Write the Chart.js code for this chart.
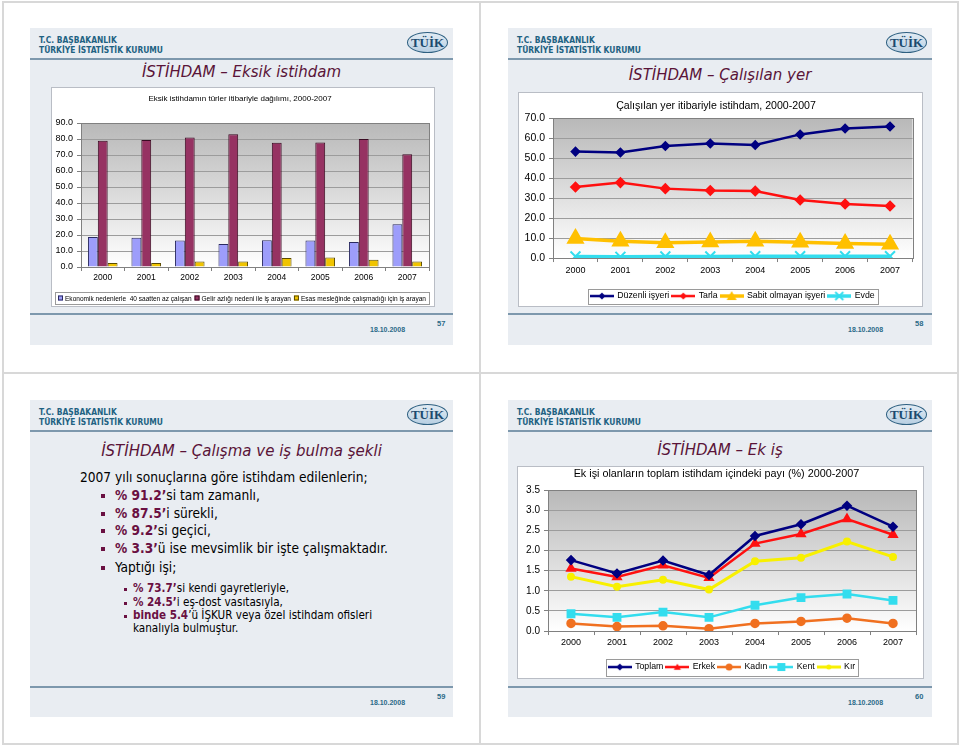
<!DOCTYPE html>
<html><head><meta charset="utf-8">
<script src="https://cdn.jsdelivr.net/npm/chart.js@4.4.0/dist/chart.umd.min.js"></script>
<style>
body{margin:0;width:960px;height:746px;background:#fff;position:relative;overflow:hidden;font-family:"DejaVu Sans Condensed","DejaVu Sans",sans-serif;}
.frame{position:absolute;border:2px solid #d8d8d8;box-sizing:border-box;}
.slide{position:absolute;background:#e9edf2;width:423px;height:317px;}
.hdr{position:absolute;left:9px;top:7px;font-weight:bold;font-size:8.4px;color:#1e6282;line-height:10px;white-space:nowrap;}
.hline{position:absolute;left:0;right:0;height:2px;background:#7d98ad;}
.logo{position:absolute;left:377px;top:4px;width:39px;height:19px;border:1px solid #2d5f80;border-radius:50%;background:linear-gradient(#e2ecf4,#b8cfe2);font:bold 13px "Liberation Serif",serif;color:#1b4a6e;text-align:center;line-height:20px;}
.title{position:absolute;left:0;right:0;text-align:center;font-style:italic;color:#5a1438;font-size:16.7px;line-height:22px;white-space:nowrap;}
.date{position:absolute;left:340px;font:bold 7px "Liberation Sans",Arial,sans-serif;color:#2b6a88;}
.pg{position:absolute;left:407px;font:bold 7.5px "Liberation Sans",Arial,sans-serif;color:#2b6a88;}
.cbox{position:absolute;background:#fff;border:1px solid #b9bdc5;box-sizing:border-box;}
canvas{position:absolute;}
.tx{position:absolute;white-space:nowrap;color:#000;}
.b{font-weight:bold;color:#6a1042;}
.sq{position:absolute;background:#6a1042;}
</style>
</head><body>
<div class="frame" style="left:2px;top:1px;width:479px;height:373px"></div>
<div class="frame" style="left:479px;top:1px;width:480px;height:373px"></div>
<div class="frame" style="left:2px;top:372px;width:479px;height:373px"></div>
<div class="frame" style="left:479px;top:372px;width:480px;height:373px"></div>

<!-- Slide 57 -->
<div class="slide" style="left:30px;top:28px">
  <div class="hdr">T.C. BAŞBAKANLIK<br>TÜRKİYE İSTATİSTİK KURUMU</div>
  <div class="logo">TÜİK</div>
  <div class="hline" style="top:30px"></div>
  <div class="title" style="top:32px">İSTİHDAM – Eksik istihdam</div>
  <div class="hline" style="top:285px"></div>
  <div class="date" style="top:298px">18.10.2008</div>
  <div class="pg" style="top:291px">57</div>
</div>
<!-- Slide 58 -->
<div class="slide" style="left:508px;top:28px;width:424px">
  <div class="hdr">T.C. BAŞBAKANLIK<br>TÜRKİYE İSTATİSTİK KURUMU</div>
  <div class="logo" style="left:378px">TÜİK</div>
  <div class="hline" style="top:30px"></div>
  <div class="title" style="top:35px">İSTİHDAM – Çalışılan yer</div>
  <div class="hline" style="top:285px"></div>
  <div class="date" style="top:298px">18.10.2008</div>
  <div class="pg" style="top:291px">58</div>
</div>
<!-- Slide 59 -->
<div class="slide" style="left:30px;top:400px">
  <div class="hdr">T.C. BAŞBAKANLIK<br>TÜRKİYE İSTATİSTİK KURUMU</div>
  <div class="logo">TÜİK</div>
  <div class="hline" style="top:30px"></div>
  <div class="title" style="top:39px">İSTİHDAM – Çalışma ve iş bulma şekli</div>
  <div class="hline" style="top:286px"></div>
  <div class="date" style="top:299px">18.10.2008</div>
  <div class="pg" style="top:292px">59</div>
</div>
<!-- Slide 60 -->
<div class="slide" style="left:508px;top:400px;width:424px">
  <div class="hdr">T.C. BAŞBAKANLIK<br>TÜRKİYE İSTATİSTİK KURUMU</div>
  <div class="logo" style="left:378px">TÜİK</div>
  <div class="hline" style="top:30px"></div>
  <div class="title" style="top:38px">İSTİHDAM – Ek iş</div>
  <div class="hline" style="top:286px"></div>
  <div class="date" style="top:299px">18.10.2008</div>
  <div class="pg" style="top:292px">60</div>
</div>

<!-- text slide 59 -->
<div style="position:absolute;left:0;top:0;font-size:13.6px;">
  <div class="tx" style="left:80px;top:469px">2007 yılı sonuçlarına göre istihdam edilenlerin;</div>
  <div class="sq" style="left:101px;top:494px;width:4px;height:4px"></div>
  <div class="tx" style="left:115px;top:487px"><span class="b">% 91.2’</span>si tam zamanlı,</div>
  <div class="sq" style="left:101px;top:512px;width:4px;height:4px"></div>
  <div class="tx" style="left:115px;top:505px"><span class="b">% 87.5’</span>i sürekli,</div>
  <div class="sq" style="left:101px;top:529px;width:4px;height:4px"></div>
  <div class="tx" style="left:115px;top:522px"><span class="b">% 9.2’</span>si geçici,</div>
  <div class="sq" style="left:101px;top:547px;width:4px;height:4px"></div>
  <div class="tx" style="left:115px;top:540px"><span class="b">% 3.3’</span>ü ise mevsimlik bir işte çalışmaktadır.</div>
  <div class="sq" style="left:101px;top:566px;width:4px;height:4px"></div>
  <div class="tx" style="left:115px;top:559px">Yaptığı işi;</div>
  <div style="font-size:11.6px">
    <div class="sq" style="left:124px;top:588px;width:3px;height:3px"></div>
    <div class="tx" style="left:133px;top:581px"><span class="b">% 73.7’</span>si kendi gayretleriyle,</div>
    <div class="sq" style="left:124px;top:602px;width:3px;height:3px"></div>
    <div class="tx" style="left:133px;top:595px"><span class="b">% 24.5’</span>i eş-dost vasıtasıyla,</div>
    <div class="sq" style="left:124px;top:615px;width:3px;height:3px"></div>
    <div class="tx" style="left:133px;top:608px"><span class="b">binde 5.4</span>’ü İŞKUR veya özel istihdam ofisleri</div>
    <div class="tx" style="left:133px;top:621px">kanalıyla  bulmuştur.</div>
  </div>
</div>

<div class="cbox" style="left:51px;top:87px;width:384px;height:220px"></div>
<canvas id="c1" width="384" height="220" style="left:51px;top:87px;width:384px;height:220px"></canvas>
<div class="cbox" style="left:518px;top:92px;width:405px;height:215px"></div>
<canvas id="c2" width="405" height="225" style="left:518px;top:92px;width:405px;height:225px"></canvas>
<div class="cbox" style="left:517px;top:466px;width:407px;height:213px"></div>
<canvas id="c4" width="407" height="223" style="left:517px;top:466px;width:407px;height:223px"></canvas>

<script>
const years = ['2000','2001','2002','2003','2004','2005','2006','2007'];
// Eksik istihdam
const ekonomik = [18.8,18.3,16.5,14.4,16.7,16.5,15.6,26.7];
const gelir = [78.9,79.4,81.0,82.9,77.7,77.8,80.0,70.4];
const esas = [2.5,2.5,3.5,3.5,5.6,6.0,4.6,3.5];
// Çalışılan yer
const duzenli = [53.2,52.8,56.0,57.3,56.5,61.8,64.7,65.8];
const tarla = [35.5,37.7,34.7,33.8,33.5,29.0,27.0,26.0];
const sabit = [9.8,8.4,7.6,8.0,8.4,7.9,7.3,6.9];
const evde = [0.8,0.6,0.8,0.8,0.9,0.9,0.9,0.9];
// Ek iş
const toplam = [1.76,1.43,1.75,1.39,2.36,2.65,3.11,2.59];
const erkek = [1.55,1.34,1.63,1.32,2.17,2.41,2.78,2.39];
const kadin = [0.19,0.11,0.13,0.06,0.19,0.24,0.32,0.19];
const kent = [0.43,0.34,0.47,0.34,0.64,0.83,0.92,0.76];
const kir = [1.35,1.10,1.27,1.03,1.73,1.82,2.22,1.84];

const FONT = '"Liberation Sans", Arial, sans-serif';
Chart.defaults.font.family = FONT;
Chart.defaults.color = '#000';
Chart.defaults.animation = false;
Chart.defaults.responsive = false;

const plotBg = {
  id: 'plotBg',
  beforeDraw(chart) {
    const {ctx, chartArea: a} = chart;
    const g = ctx.createLinearGradient(0, a.top, 0, a.bottom);
    g.addColorStop(0, '#b8b8b8');
    g.addColorStop(1, '#ffffff');
    ctx.save();
    ctx.fillStyle = g;
    ctx.fillRect(a.left, a.top, a.width, a.height);
    ctx.restore();
  },
  beforeDatasetsDraw(chart) {
    const {ctx, chartArea: a} = chart;
    ctx.save();
    ctx.strokeStyle = '#808080';
    ctx.lineWidth = 1;
    ctx.strokeRect(Math.round(a.left) + 0.5, Math.round(a.top) + 0.5, Math.round(a.width), Math.round(a.height));
    ctx.restore();
  },
  afterDraw(chart) {
    const b = chart.options.$legendBox;
    if (!b || !chart.legend || !chart.legend.options.display) return;
    const l = chart.legend;
    const ctx = chart.ctx;
    const w = l.lineWidths[0] + b.pad;
    const cx = (l.left + l.right) / 2;
    const cy = l.top + l.options.labels.padding + l.options.labels.font.size / 2;
    ctx.save();
    ctx.strokeStyle = '#9a9a9a';
    ctx.lineWidth = 1;
    ctx.strokeRect(Math.round(cx - w / 2) + 0.5, Math.round(cy - b.h / 2) + 0.5, Math.round(w), b.h);
    ctx.restore();
  }
};

// Compact legend for the bar chart (text squeezed horizontally like the original)
const barLegend = {
  id: 'barLegend',
  afterDraw(chart) {
    const o = chart.options.$barLegend;
    const ctx = chart.ctx;
    const ds = chart.data.datasets;
    ctx.save();
    ctx.font = o.size + 'px ' + FONT;
    const box = 5, gapT = 2, gapI = 3;
    const texts = ds.map(d => ctx.measureText(d.label).width);
    const fixed = ds.length * (box + gapT) + (ds.length - 1) * gapI;
    const sx = Math.min(1, (o.x1 - o.x0 - 6 - fixed) / texts.reduce((a, b) => a + b, 0));
    ctx.strokeStyle = '#9a9a9a'; ctx.lineWidth = 1;
    ctx.strokeRect(o.x0 + 0.5, o.y - 6 + 0.5, o.x1 - o.x0, 12);
    let x = o.x0 + 3;
    ctx.textBaseline = 'middle';
    ds.forEach((d, i) => {
      ctx.fillStyle = d.backgroundColor; ctx.strokeStyle = d.borderColor;
      ctx.fillRect(x, o.y - 2.5, box, box);
      ctx.strokeRect(x + 0.5, o.y - 2.5 + 0.5, box - 1, box - 1);
      x += box + gapT;
      ctx.save(); ctx.translate(x, o.y + 0.5); ctx.scale(sx, 1);
      ctx.fillStyle = '#000'; ctx.fillText(d.label, 0, 0); ctx.restore();
      x += texts[i] * sx + gapI;
    });
    ctx.restore();
  }
};

function yAxis(max, step, dec, width, size) {
  return {
    min: 0, max: max,
    ticks: {stepSize: step, callback: v => Number(v).toFixed(dec), font: {size: size}, padding: 4},
    grid: {color: '#9c9c9c', drawTicks: true, tickLength: 4, tickColor: '#808080'},
    border: {color: '#808080'},
    afterFit(s) { s.width = width; }
  };
}
function xAxis(height, size, pad) {
  return {
    offset: true,
    ticks: {font: {size: size}, padding: pad},
    grid: {offset: true, drawOnChartArea: false, tickLength: 4, color: '#808080'},
    border: {color: '#808080'},
    afterFit(s) { s.height = height; }
  };
}

function legendMark(color, style, r, lw) {
  const c = document.createElement('canvas');
  c.width = 24; c.height = 14;
  const x = c.getContext('2d');
  const m = 12, y = 7;
  x.strokeStyle = color; x.fillStyle = color; x.lineWidth = lw || 2.5;
  x.beginPath(); x.moveTo(0, y); x.lineTo(24, y); x.stroke();
  x.lineWidth = 1.8;
  x.beginPath();
  if (style === 'rectRot') { x.moveTo(m, y - r); x.lineTo(m + r, y); x.lineTo(m, y + r); x.lineTo(m - r, y); x.closePath(); x.fill(); }
  else if (style === 'triangle') { x.moveTo(m, y - r); x.lineTo(m + r, y + r * 0.8); x.lineTo(m - r, y + r * 0.8); x.closePath(); x.fill(); }
  else if (style === 'circle') { x.arc(m, y, r, 0, Math.PI * 2); x.fill(); }
  else if (style === 'rect') { x.fillRect(m - r, y - r, 2 * r, 2 * r); }
  else if (style === 'crossRot') { x.moveTo(m - r, y - r); x.lineTo(m + r, y + r); x.moveTo(m + r, y - r); x.lineTo(m - r, y + r); x.stroke(); }
  return c;
}
const lineLegendLabels = {
  usePointStyle: true, pointStyleWidth: 22, padding: 3, font: {size: 8.75},
  generateLabels(ch) {
    return Chart.defaults.plugins.legend.labels.generateLabels(ch)
      .map((l, i) => Object.assign(l, {pointStyle: ch.data.datasets[i].$m}));
  }
};

// Chart 1 - bars
new Chart(document.getElementById('c1'), {
  type: 'bar',
  data: {
    labels: years,
    datasets: [
      {label: 'Ekonomik nedenlerle  40 saatten az çalışan', data: ekonomik, backgroundColor: '#9d9dfb', borderColor: '#2a2a60', borderWidth: 1},
      {label: 'Gelir azlığı nedeni ile iş arayan', data: gelir, backgroundColor: '#963262', borderColor: '#3a0a22', borderWidth: 1},
      {label: 'Esas mesleğinde çalışmadığı için iş arayan', data: esas, backgroundColor: '#f0c400', borderColor: '#5a4a00', borderWidth: 1}
    ]
  },
  options: {
    $barLegend: {x0: 4, x1: 378, y: 211, size: 8},
    layout: {padding: {left: 0, right: 6, top: 0, bottom: 18}},
    datasets: {bar: {categoryPercentage: 0.68, barPercentage: 1.0}},
    scales: {x: xAxis(22, 8.5, 2), y: yAxis(90, 10, 1, 30, 9)},
    plugins: {
      title: {display: true, text: 'Eksik istihdamın türler itibariyle dağılımı, 2000-2007', font: {size: 8, weight: 'normal', lineHeight: 1.2}, padding: {top: 7.2, bottom: 19.2}, color: '#000'},
      legend: {display: false},
      tooltip: {enabled: false}
    }
  },
  plugins: [plotBg, barLegend]
});

// Chart 2 - lines
new Chart(document.getElementById('c2'), {
  type: 'line',
  data: {
    labels: years,
    datasets: [
      {label: 'Düzenli işyeri', data: duzenli, borderColor: '#000080', backgroundColor: '#000080', borderWidth: 2.5, pointStyle: 'rectRot', pointRadius: 3.5, $m: legendMark('#000080', 'rectRot', 3.5)},
      {label: 'Tarla', data: tarla, borderColor: '#ff1010', backgroundColor: '#ff1010', borderWidth: 2.5, pointStyle: 'rectRot', pointRadius: 4, $m: legendMark('#ff1010', 'rectRot', 3.5)},
      {label: 'Sabit olmayan işyeri', data: sabit, borderColor: '#ffc000', backgroundColor: '#ffc000', borderWidth: 3.5, pointStyle: 'triangle', pointRadius: 7, $m: legendMark('#ffc000', 'triangle', 5, 3.5)},
      {label: 'Evde', data: evde, borderColor: '#33ddee', backgroundColor: '#33ddee', borderWidth: 3.5, pointStyle: 'crossRot', pointRadius: 7, pointBorderWidth: 2, $m: legendMark('#33ddee', 'crossRot', 4, 3.5)}
    ]
  },
  options: {
    $legendBox: {pad: 3, h: 15},
    layout: {padding: {left: 0, right: 9, top: 0, bottom: 6.6}},
    scales: {x: xAxis(30.6, 9, 3.5), y: yAxis(70, 10, 1, 35, 10.5)},
    plugins: {
      title: {display: true, text: 'Çalışılan yer itibariyle istihdam, 2000-2007', font: {size: 10.6, weight: 'normal', lineHeight: 1.2}, padding: {top: 8, bottom: 5.28}, color: '#000'},
      legend: {position: 'bottom', fullSize: false, labels: lineLegendLabels},
      tooltip: {enabled: false}
    }
  },
  plugins: [plotBg]
});

// Chart 4 - lines
new Chart(document.getElementById('c4'), {
  type: 'line',
  data: {
    labels: years,
    datasets: [
      {label: 'Toplam', data: toplam, borderColor: '#000080', backgroundColor: '#000080', borderWidth: 2.5, pointStyle: 'rectRot', pointRadius: 3.5, $m: legendMark('#000080', 'rectRot', 3.5)},
      {label: 'Erkek', data: erkek, borderColor: '#ff1010', backgroundColor: '#ff1010', borderWidth: 2.5, pointStyle: 'triangle', pointRadius: 4, $m: legendMark('#ff1010', 'triangle', 3.5)},
      {label: 'Kadın', data: kadin, borderColor: '#f07020', backgroundColor: '#f07020', borderWidth: 2.5, pointStyle: 'circle', pointRadius: 3.5, $m: legendMark('#f07020', 'circle', 3.5)},
      {label: 'Kent', data: kent, borderColor: '#33ddee', backgroundColor: '#33ddee', borderWidth: 2.5, pointStyle: 'rect', pointRadius: 4.5, $m: legendMark('#33ddee', 'rect', 4)},
      {label: 'Kır', data: kir, borderColor: '#f8f000', backgroundColor: '#f8f000', borderWidth: 3, pointStyle: 'circle', pointRadius: 2.5, $m: legendMark('#f8f000', 'circle', 2.5, 3)}
    ]
  },
  options: {
    $legendBox: {pad: 3, h: 17},
    layout: {padding: {left: 0, right: 8, top: 0, bottom: 7.6}},
    scales: {x: xAxis(28.6, 9, 2.5), y: yAxis(3.5, 0.5, 1, 31, 10)},
    plugins: {
      title: {display: true, text: 'Ek işi olanların toplam istihdam içindeki payı (%) 2000-2007', font: {size: 10.8, weight: 'normal', lineHeight: 1.2}, padding: {top: 2, bottom: 9.04}, color: '#000'},
      legend: {position: 'bottom', fullSize: false, labels: lineLegendLabels},
      tooltip: {enabled: false}
    }
  },
  plugins: [plotBg]
});
</script>
</body></html>
